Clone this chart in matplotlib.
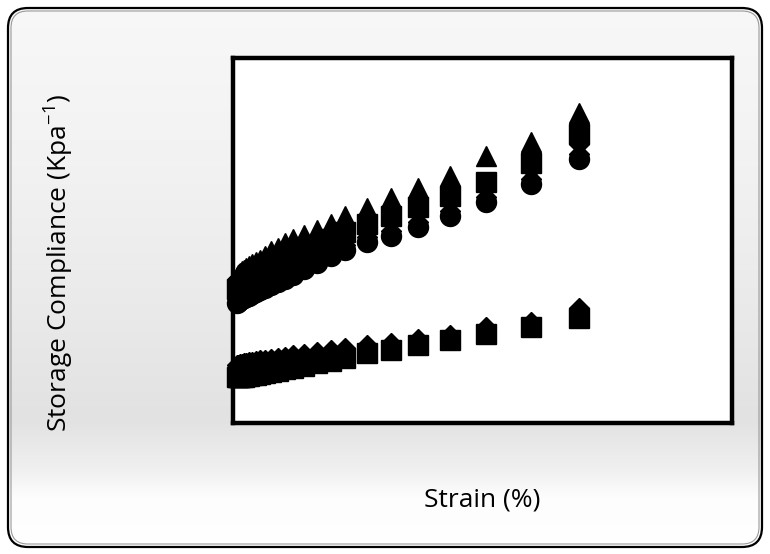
import matplotlib
matplotlib.use("Agg")
import numpy as np
import matplotlib.pyplot as plt
from matplotlib.patches import FancyBboxPatch
from matplotlib.colors import LinearSegmentedColormap

plt.rcParams['font.family'] = ['Open Sans', 'DejaVu Sans']

# strain (%), same for every series
strain = [69.3, 59.7, 50.7, 43.5, 37.1, 31.7, 26.9, 22.4, 19.6, 16.8, 14.2, 12.0,
          10.4, 9.0, 7.6, 6.4, 5.4, 4.6, 3.8, 3.2, 2.6, 2.2, 1.8, 1.4, 1.2, 1.0, 0.8]

# upper group
tri = [84.9, 77.0, 73.2, 67.7, 64.4, 61.6, 58.9, 56.7, 54.5, 52.9, 51.5, 50.4,
       49.3, 47.9, 47.1, 45.8, 44.7, 44.1, 43.6, 43.0, 42.5, 41.9, 41.6, 41.1, 40.8, 40.5, 40.0]
sq = [79.2, 71.2, 66.0, 62.2, 59.2, 56.7, 54.5, 52.3, 50.4, 48.8, 47.1, 45.8,
      44.7, 43.6, 42.7, 41.6, 40.8, 40.3, 39.7, 39.2, 38.6, 38.4, 38.1, 37.5, 37.3, 37.0, 36.7]
cross = [75.1, 68.2, 63.3, 59.5, 56.4, 54.0, 52.3, 50.1, 48.5, 46.6, 44.9, 43.3,
         42.2, 41.4, 40.5, 39.7, 39.2, 38.6, 38.1, 37.5, 37.3, 37.0, 36.7, 36.4, 36.2, 35.9, 35.6]
circ = [72.3, 65.5, 60.5, 56.7, 53.7, 51.2, 49.6, 47.4, 45.8, 43.8, 42.2, 40.5,
        39.5, 38.6, 37.8, 37.0, 36.4, 35.9, 35.3, 34.8, 34.5, 34.2, 34.0, 33.7, 33.4, 33.2, 32.9]

# lower group
sq_low = [28.8, 26.3, 24.4, 22.7, 21.4, 20.0, 19.2, 17.8, 17.0, 16.4, 15.6, 15.1,
          14.8, 14.2, 14.0, 13.7, 13.4, 13.2, 13.2, 12.9, 12.9, 12.6, 12.6, 12.6, 12.6, 12.6, 12.6]
dia_low = [31.5, 27.7, 26.3, 24.1, 23.0, 21.9, 21.4, 20.5, 20.0, 19.5, 18.9, 18.6,
           18.1, 17.8, 17.5, 17.3, 17.3, 17.0, 16.7, 16.7, 16.4, 16.4, 16.2, 16.2, 15.9, 15.9, 15.9]

W, H = 770, 554
fig = plt.figure(figsize=(W / 100, H / 100), dpi=100)
fig.patch.set_facecolor("white")

# chart-area background: rounded frame with a grey gradient
bg = fig.add_axes([0, 0, 1, 1], zorder=0)
bg.set_xlim(0, W); bg.set_ylim(H, 0); bg.axis("off")
grad = LinearSegmentedColormap.from_list("g", [
    (0.0, "#f8f8f8"), (0.3, "#f2f2f2"), (0.55, "#eaeaea"), (0.76, "#e2e2e2"),
    (0.85, "#f0f0f0"), (0.9, "#fdfdfd"), (1.0, "#ffffff")])
img = bg.imshow(np.linspace(0, 1, 256)[:, None], cmap=grad, aspect="auto",
                extent=[0, W, H, 0], zorder=0)
frame = FancyBboxPatch((8, 8), W - 16, H - 15, boxstyle="round,pad=0,rounding_size=20",
                       fc="none", ec="black", lw=1.6, zorder=2)
bg.add_patch(frame)
img.set_clip_path(frame)
inner = FancyBboxPatch((11, 11), W - 22, H - 21, boxstyle="round,pad=0,rounding_size=17",
                       fc="none", ec="#9a9a9a", lw=0.8, zorder=2)
bg.add_patch(inner)

# plot area
ax = fig.add_axes([233 / W, 1 - 423 / H, 499 / W, 365 / H], zorder=1)
ax.set_facecolor("white")
ax.set_xlim(0, 100); ax.set_ylim(0, 100)
ax.set_xticks([]); ax.set_yticks([])
for s in ax.spines.values():
    s.set_linewidth(3.2); s.set_color("black")

kw = dict(ls="none", color="black", mec="black", clip_on=False)
ax.plot(strain, sq_low, marker="s", ms=14.4, **kw)
ax.plot(strain, dia_low, marker="D", ms=10.2, **kw)
ax.plot(strain, tri, marker="^", ms=14.4, **kw)
ax.plot(strain, sq, marker="s", ms=14.4, **kw)
ax.plot(strain, cross, marker="X", ms=14, **kw)
ax.plot(strain, circ, marker="o", ms=14.4, **kw)

fig.text(58 / W, 1 - 263 / H, r"Storage Compliance (Kpa$^{\mathregular{-1}}$)", rotation=90,
         ha="center", va="center", fontsize=19)
fig.text(482 / W, 1 - 500 / H, "Strain (%)", ha="center", va="center", fontsize=19)

fig.savefig("out.png", dpi=100)
